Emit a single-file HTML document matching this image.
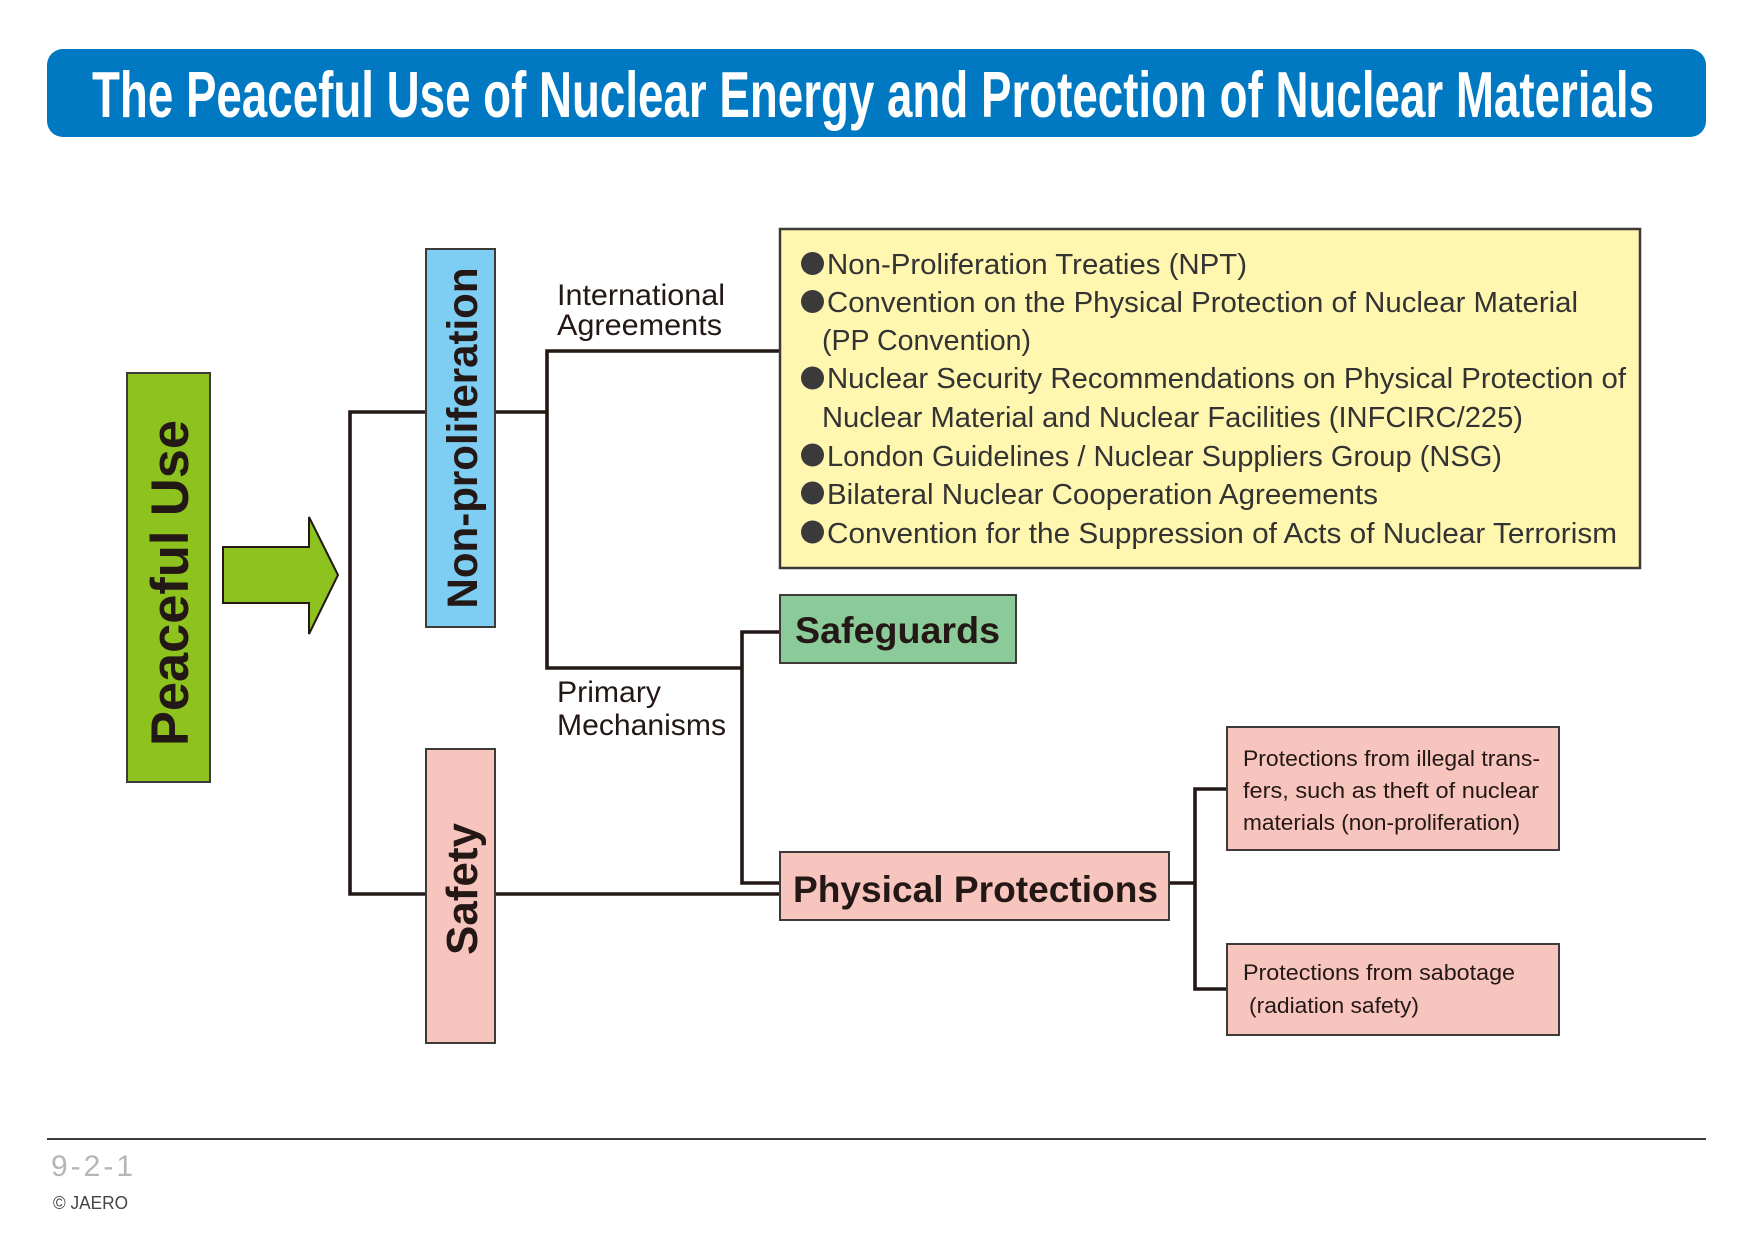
<!DOCTYPE html>
<html>
<head>
<meta charset="utf-8">
<style>
  html, body { margin:0; padding:0; background:#ffffff; }
  body { width:1754px; height:1240px; overflow:hidden; }
  svg { display:block; }
  text { font-family: "Liberation Sans", Arial, sans-serif; }
</style>
</head>
<body>
<svg width="1754" height="1240" viewBox="0 0 1754 1240" xmlns="http://www.w3.org/2000/svg">
  <rect x="0" y="0" width="1754" height="1240" fill="#ffffff"/>

  <!-- Title bar -->
  <rect x="47" y="49" width="1659" height="88" rx="16" ry="16" fill="#0079C2"/>
  <text x="92" y="117" font-size="65" font-weight="bold" fill="#ffffff" textLength="1562" lengthAdjust="spacingAndGlyphs" style="font-family:'Liberation Sans Narrow','Liberation Sans',Arial,sans-serif;">The Peaceful Use of Nuclear Energy and Protection of Nuclear Materials</text>

  <!-- Connector lines -->
  <g stroke="#231815" stroke-width="3.6" fill="none" stroke-linejoin="miter" stroke-linecap="butt">
    <!-- left bracket -->
    <polyline points="426,412 350,412 350,894 426,894"/>
    <!-- non-proliferation to right bracket -->
    <line x1="495" y1="412" x2="547" y2="412"/>
    <polyline points="780,351 547,351 547,668 742,668"/>
    <!-- primary mechanisms bracket -->
    <polyline points="780,632 742,632 742,883 780,883"/>
    <!-- safety to physical protections -->
    <line x1="495" y1="894" x2="780" y2="894"/>
    <!-- physical protections right bracket -->
    <line x1="1169" y1="883" x2="1195" y2="883"/>
    <polyline points="1227,789 1195,789 1195,989 1227,989"/>
  </g>

  <!-- Peaceful Use box -->
  <rect x="127" y="373" width="83" height="409" fill="#8DC21F" stroke="#3e3a39" stroke-width="2"/>
  <text transform="translate(188,583) rotate(-90)" text-anchor="middle" font-size="53" font-weight="bold" fill="#231815" textLength="326" lengthAdjust="spacingAndGlyphs">Peaceful Use</text>

  <!-- Arrow -->
  <polygon points="223,547 309,547 309,517 338,575 309,634 309,603 223,603" fill="#8DC21F" stroke="#231815" stroke-width="2"/>

  <!-- Non-proliferation box -->
  <rect x="426" y="249" width="69" height="378" fill="#7ECEF4" stroke="#3e3a39" stroke-width="2"/>
  <text transform="translate(477,438) rotate(-90)" text-anchor="middle" font-size="43" font-weight="bold" fill="#231815" textLength="341" lengthAdjust="spacingAndGlyphs">Non-proliferation</text>

  <!-- Safety box -->
  <rect x="426" y="749" width="69" height="294" fill="#F7C5BD" stroke="#3e3a39" stroke-width="2"/>
  <text transform="translate(477,889) rotate(-90)" text-anchor="middle" font-size="44" font-weight="bold" fill="#231815" textLength="132" lengthAdjust="spacingAndGlyphs">Safety</text>

  <!-- Labels -->
  <g font-size="30" fill="#231815">
    <text x="557" y="305" textLength="168" lengthAdjust="spacingAndGlyphs">International</text>
    <text x="557" y="335" textLength="165" lengthAdjust="spacingAndGlyphs">Agreements</text>
    <text x="557" y="702" textLength="104" lengthAdjust="spacingAndGlyphs">Primary</text>
    <text x="557" y="735" textLength="169" lengthAdjust="spacingAndGlyphs">Mechanisms</text>
  </g>

  <!-- Yellow box -->
  <rect x="780" y="229" width="860" height="339" fill="#FFF7B0" stroke="#3e3a39" stroke-width="2.5"/>
  <g fill="#3a3a3a">
    <circle cx="812.5" cy="263.5" r="11.5"/>
    <circle cx="812.5" cy="301.5" r="11.5"/>
    <circle cx="812.5" cy="378" r="11.5"/>
    <circle cx="812.5" cy="455" r="11.5"/>
    <circle cx="812.5" cy="493" r="11.5"/>
    <circle cx="812.5" cy="532" r="11.5"/>
  </g>
  <g font-size="29" fill="#333333">
    <text x="827" y="274" textLength="420" lengthAdjust="spacingAndGlyphs">Non-Proliferation Treaties (NPT)</text>
    <text x="827" y="312" textLength="751" lengthAdjust="spacingAndGlyphs">Convention on the Physical Protection of Nuclear Material</text>
    <text x="822" y="350" textLength="209" lengthAdjust="spacingAndGlyphs">(PP Convention)</text>
    <text x="827" y="388" textLength="799" lengthAdjust="spacingAndGlyphs">Nuclear Security Recommendations on Physical Protection of</text>
    <text x="822" y="427" textLength="701" lengthAdjust="spacingAndGlyphs">Nuclear Material and Nuclear Facilities (INFCIRC/225)</text>
    <text x="827" y="466" textLength="675" lengthAdjust="spacingAndGlyphs">London Guidelines / Nuclear Suppliers Group (NSG)</text>
    <text x="827" y="504" textLength="551" lengthAdjust="spacingAndGlyphs">Bilateral Nuclear Cooperation Agreements</text>
    <text x="827" y="543" textLength="790" lengthAdjust="spacingAndGlyphs">Convention for the Suppression of Acts of Nuclear Terrorism</text>
  </g>

  <!-- Safeguards box -->
  <rect x="780" y="595" width="236" height="68" fill="#8BCB9A" stroke="#3e3a39" stroke-width="2"/>
  <text x="795" y="643" font-size="37" font-weight="bold" fill="#231815" textLength="205" lengthAdjust="spacingAndGlyphs">Safeguards</text>

  <!-- Physical Protections box -->
  <rect x="780" y="852" width="389" height="68" fill="#F7C5BD" stroke="#3e3a39" stroke-width="2"/>
  <text x="793" y="902" font-size="37" font-weight="bold" fill="#231815" textLength="365" lengthAdjust="spacingAndGlyphs">Physical Protections</text>

  <!-- Right boxes -->
  <rect x="1227" y="727" width="332" height="123" fill="#F7C5BD" stroke="#3e3a39" stroke-width="2"/>
  <g font-size="22" fill="#231815">
    <text x="1243" y="766" textLength="297" lengthAdjust="spacingAndGlyphs">Protections from illegal trans-</text>
    <text x="1243" y="798" textLength="296" lengthAdjust="spacingAndGlyphs">fers, such as theft of nuclear</text>
    <text x="1243" y="830" textLength="277" lengthAdjust="spacingAndGlyphs">materials (non-proliferation)</text>
  </g>
  <rect x="1227" y="944" width="332" height="91" fill="#F7C5BD" stroke="#3e3a39" stroke-width="2"/>
  <g font-size="22" fill="#231815">
    <text x="1243" y="980" textLength="272" lengthAdjust="spacingAndGlyphs">Protections from sabotage</text>
    <text x="1249" y="1013" textLength="170" lengthAdjust="spacingAndGlyphs">(radiation safety)</text>
  </g>

  <!-- Footer -->
  <line x1="47" y1="1139" x2="1706" y2="1139" stroke="#3e3a39" stroke-width="2"/>
  <text x="51" y="1176" font-size="30" fill="#b5b5b5" textLength="82" lengthAdjust="spacing">9-2-1</text>
  <text x="53" y="1209" font-size="18" fill="#444444" textLength="75" lengthAdjust="spacingAndGlyphs">© JAERO</text>
</svg>
</body>
</html>
